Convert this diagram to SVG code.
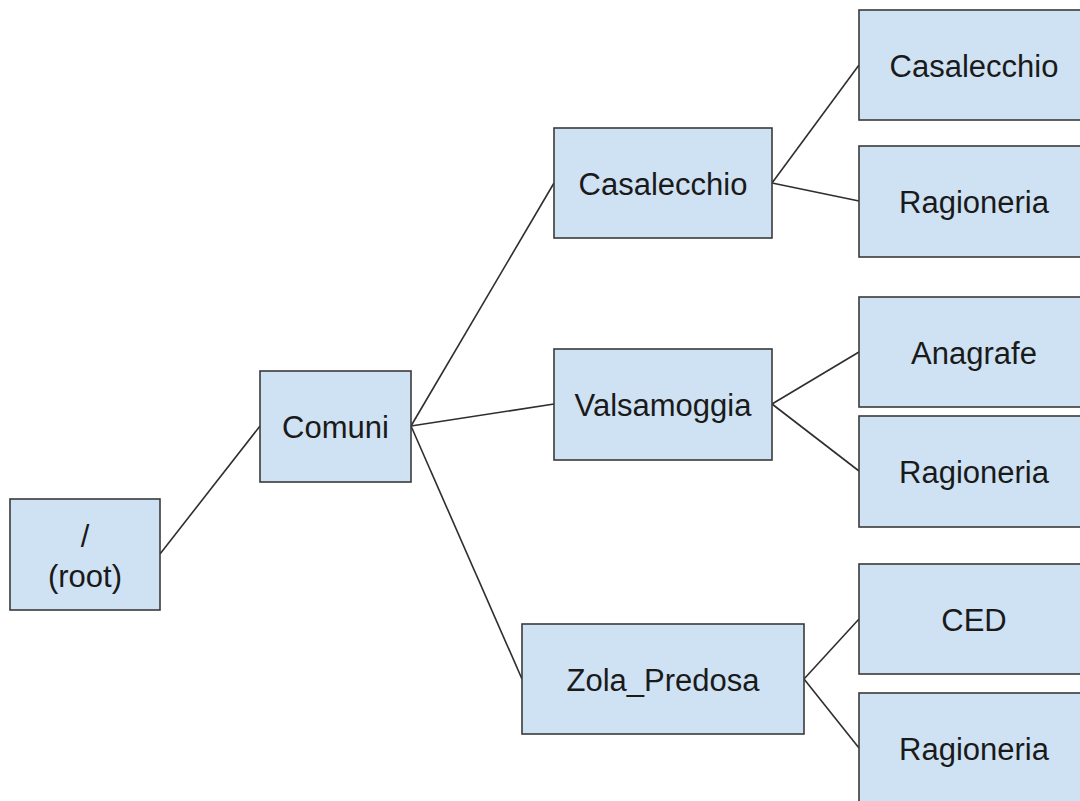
<svg xmlns="http://www.w3.org/2000/svg" width="1080" height="801" viewBox="0 0 1080 801">
<style>
.box{fill:#cfe2f3;stroke:#3a3a3a;stroke-width:1.6}
.lbl{font-family:"Liberation Sans",Arial,sans-serif;font-size:31px;fill:#1a1a1a;text-anchor:middle}
.edge{stroke:#2e2e2e;stroke-width:1.6;fill:none}
</style>
<rect width="1080" height="801" fill="#ffffff"/>
<g id="connectors">
<line class="edge" x1="160" y1="554" x2="260" y2="426"/>
<line class="edge" x1="411" y1="426" x2="554" y2="183"/>
<line class="edge" x1="411" y1="426" x2="554" y2="404"/>
<line class="edge" x1="411" y1="426" x2="522" y2="679"/>
<line class="edge" x1="772" y1="183" x2="859" y2="65"/>
<line class="edge" x1="772" y1="183" x2="859" y2="201"/>
<line class="edge" x1="772" y1="404" x2="859" y2="352"/>
<line class="edge" x1="772" y1="404" x2="859" y2="471"/>
<line class="edge" x1="804" y1="679" x2="859" y2="619"/>
<line class="edge" x1="804" y1="679" x2="859" y2="748"/>
</g>
<g id="root"><rect class="box" x="10" y="499" width="150" height="111"/><text class="lbl" x="85" y="547">/</text><text class="lbl" x="85" y="587">(root)</text></g>
<g id="comuni"><rect class="box" x="260" y="371" width="151" height="111"/><text class="lbl" x="335.5" y="438">Comuni</text></g>
<g id="casalecchio"><rect class="box" x="554" y="128" width="218" height="110"/><text class="lbl" x="663" y="194.5">Casalecchio</text></g>
<g id="valsamoggia"><rect class="box" x="554" y="349" width="218" height="111"/><text class="lbl" x="663" y="415.5">Valsamoggia</text></g>
<g id="zola_predosa"><rect class="box" x="522" y="624" width="282" height="110"/><text class="lbl" x="663" y="690.5">Zola_Predosa</text></g>
<g id="casalecchio_casalecchio"><rect class="box" x="859" y="10" width="230" height="110"/><text class="lbl" x="974" y="76.5">Casalecchio</text></g>
<g id="casalecchio_ragioneria"><rect class="box" x="859" y="146" width="230" height="111"/><text class="lbl" x="974" y="213">Ragioneria</text></g>
<g id="valsamoggia_anagrafe"><rect class="box" x="859" y="297" width="230" height="110"/><text class="lbl" x="974" y="363.5">Anagrafe</text></g>
<g id="valsamoggia_ragioneria"><rect class="box" x="859" y="416" width="230" height="111"/><text class="lbl" x="974" y="483">Ragioneria</text></g>
<g id="zola_ced"><rect class="box" x="859" y="564" width="230" height="110"/><text class="lbl" x="974" y="630.5">CED</text></g>
<g id="zola_ragioneria"><rect class="box" x="859" y="693" width="230" height="111"/><text class="lbl" x="974" y="760">Ragioneria</text></g>
</svg>
